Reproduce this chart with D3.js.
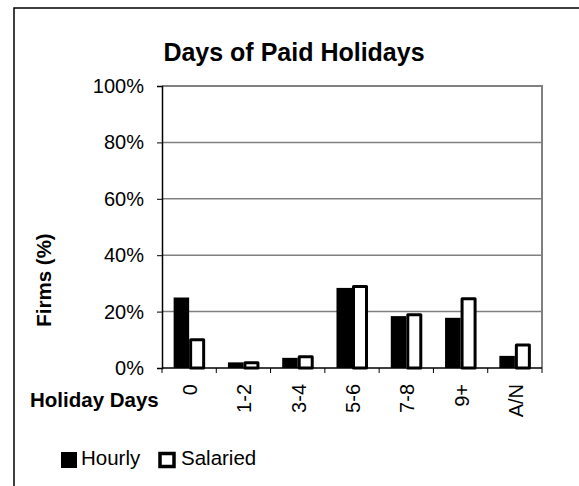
<!DOCTYPE html>
<html>
<head>
<meta charset="utf-8">
<script src="https://cdn.jsdelivr.net/npm/d3@7"></script>
<style>
  body { margin: 0; background: #fff; }
  svg { display: block; font-family: Arial, "Liberation Sans", sans-serif; }
</style>
</head>
<body>
<svg width="579" height="486"></svg>
<script>
const categories = ["0", "1-2", "3-4", "5-6", "7-8", "9+", "A/N"];
const series = ["Hourly", "Salaried"];
const hourly = [25, 2, 3.6, 28.4, 18.4, 17.8, 4.3];
const salaried = [10, 1.9, 4, 28.9, 18.9, 24.6, 8.2];
const yTicks = [0, 20, 40, 60, 80, 100];

const svg = d3.select("svg");
const plotLeft = 162, plotRight = 542, plotTop = 86, plotBottom = 368;

const x = d3.scaleBand()
  .domain(categories)
  .range([plotLeft, plotRight]);

const xs = d3.scaleBand()
  .domain(series)
  .range([0, x.bandwidth()])
  .paddingOuter(0.75);

const y = d3.scaleLinear()
  .domain([0, 100])
  .range([plotBottom, plotTop]);

// outer chart border (right/bottom run off the picture)
svg.append("rect")
  .attr("x", 14).attr("y", 8)
  .attr("width", 620).attr("height", 520)
  .attr("fill", "none")
  .attr("stroke", "#000")
  .attr("stroke-width", 1.5);

// GRID
svg.append("g")
  .selectAll("line")
  .data(yTicks.filter(d => d > 0 && d < 100))
  .join("line")
  .attr("x1", plotLeft).attr("x2", plotRight)
  .attr("y1", d => y(d)).attr("y2", d => y(d))
  .attr("stroke", "#808080")
  .attr("stroke-width", 1.5);

// plot frame top / right
svg.append("path")
  .attr("d", `M${plotLeft},${y(100)}H${plotRight}V${plotBottom}`)
  .attr("fill", "none")
  .attr("stroke", "#808080")
  .attr("stroke-width", 2);

// BARS
const group = svg.append("g")
  .selectAll("g")
  .data(categories)
  .join("g")
  .attr("transform", d => `translate(${x(d)},0)`);

group.append("rect")
  .attr("x", xs("Hourly"))
  .attr("width", xs.bandwidth())
  .attr("y", (d, i) => y(hourly[i]))
  .attr("height", (d, i) => y(0) - y(hourly[i]))
  .attr("fill", "#000");

group.append("rect")
  .attr("x", xs("Salaried") + 1.5)
  .attr("width", xs.bandwidth() - 2.5)
  .attr("y", (d, i) => y(salaried[i]))
  .attr("height", (d, i) => y(0) - y(salaried[i]))
  .attr("fill", "#fff")
  .attr("stroke", "#000")
  .attr("stroke-width", 3)
  .attr("stroke-linejoin", "round");

// Y AXIS
const yAxis = svg.append("g")
  .attr("transform", `translate(${plotLeft},0)`)
  .call(d3.axisLeft(y)
    .tickValues(yTicks)
    .tickFormat(d => d + "%")
    .tickSize(5)
    .tickPadding(13));
yAxis.select(".domain").attr("stroke", "#000").attr("stroke-width", 1.5);
yAxis.selectAll(".tick line").attr("stroke", "#000");
yAxis.selectAll("text")
  .attr("font-size", 20)
  .attr("font-family", "Arial, 'Liberation Sans', sans-serif")
  .attr("fill", "#000");

// X AXIS
svg.append("line")
  .attr("x1", plotLeft).attr("x2", plotRight)
  .attr("y1", plotBottom).attr("y2", plotBottom)
  .attr("stroke", "#000")
  .attr("stroke-width", 1.5);

svg.append("g")
  .selectAll("line")
  .data(categories.map(d => x(d)).concat([plotRight]))
  .join("line")
  .attr("x1", d => d).attr("x2", d => d)
  .attr("y1", plotBottom).attr("y2", plotBottom + 5)
  .attr("stroke", "#000");

svg.append("g")
  .selectAll("text")
  .data(categories)
  .join("text")
  .attr("transform", d => `translate(${x(d) + x.bandwidth() / 2 + 1},384) rotate(-90)`)
  .attr("dy", "0.35em")
  .attr("text-anchor", "end")
  .attr("font-size", 20)
  .text(d => d);

// TITLES
svg.append("text")
  .attr("x", 294).attr("y", 61)
  .attr("text-anchor", "middle")
  .attr("font-size", 25)
  .attr("font-weight", "bold")
  .text("Days of Paid Holidays");

svg.append("text")
  .attr("x", 30).attr("y", 407)
  .attr("font-size", 20.5)
  .attr("font-weight", "bold")
  .text("Holiday Days");

svg.append("text")
  .attr("transform", "translate(51,280) rotate(-90)")
  .attr("text-anchor", "middle")
  .attr("font-size", 20.5)
  .attr("font-weight", "bold")
  .text("Firms (%)");

// LEGEND
const legend = svg.append("g");
legend.append("rect")
  .attr("x", 61).attr("y", 452)
  .attr("width", 16).attr("height", 16)
  .attr("fill", "#000");
legend.append("text")
  .attr("x", 81).attr("y", 465)
  .attr("font-size", 20.5)
  .text(series[0]);
legend.append("rect")
  .attr("x", 160).attr("y", 453.5)
  .attr("width", 14).attr("height", 13)
  .attr("fill", "#fff")
  .attr("stroke", "#000")
  .attr("stroke-width", 3.5);
legend.append("text")
  .attr("x", 181).attr("y", 465)
  .attr("font-size", 20.5)
  .text(series[1]);
</script>
</body>
</html>
